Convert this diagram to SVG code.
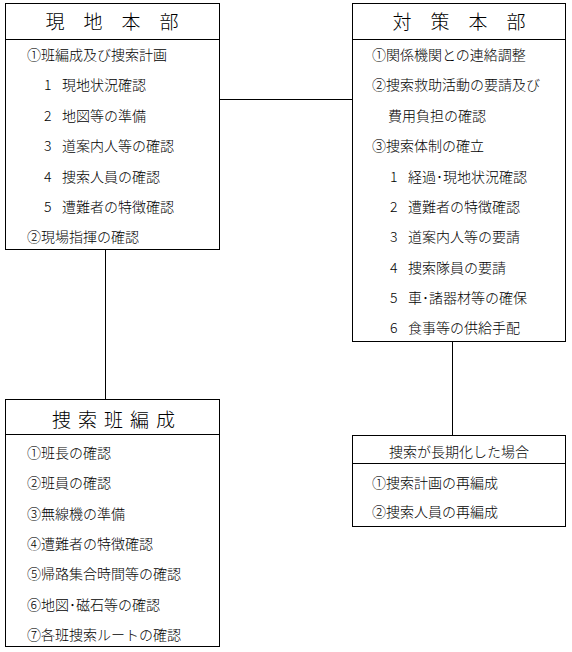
<svg xmlns="http://www.w3.org/2000/svg" width="572" height="652" viewBox="0 0 572 652">
<style>
rect,line{fill:none;stroke:#000;stroke-width:1}
text{font-family:"Noto Sans CJK JP","Noto Sans CJK SC",sans-serif;font-size:14px;font-weight:300;fill:#000}
.h{font-size:19px;text-anchor:middle}
.h2{font-size:14px;text-anchor:middle}
</style>
<rect x="0" y="0" width="572" height="652" style="fill:#fff;stroke:none"/>
<g id="connectors">
<line x1="219.5" y1="99.5" x2="352.5" y2="99.5"/>
<line x1="105.5" y1="249.5" x2="105.5" y2="399.5"/>
<line x1="452.5" y1="341.5" x2="452.5" y2="435.5"/>
</g>
<g id="genchi">
<rect x="5.5" y="3.5" width="214" height="246"/>
<line x1="5.5" y1="39.5" x2="219.5" y2="39.5"/>
<text class="h" x="112" y="28.5">現　地　本　部</text>
<text x="27" y="60">①班編成及び捜索計画</text>
<text x="44" y="90">1</text><text x="62" y="90">現地状況確認</text>
<text x="44" y="120.5">2</text><text x="62" y="120.5">地図等の準備</text>
<text x="44" y="151">3</text><text x="62" y="151">道案内人等の確認</text>
<text x="44" y="181.5">4</text><text x="62" y="181.5">捜索人員の確認</text>
<text x="44" y="212">5</text><text x="62" y="212">遭難者の特徴確認</text>
<text x="27" y="242">②現場指揮の確認</text>
</g>
<g id="taisaku">
<rect x="352.5" y="3.5" width="213" height="338"/>
<line x1="352.5" y1="39.5" x2="565.5" y2="39.5"/>
<text class="h" x="459" y="28.5">対　策　本　部</text>
<text x="372" y="60">①関係機関との連絡調整</text>
<text x="372" y="90">②捜索救助活動の要請及び</text>
<text x="388" y="120.5">費用負担の確認</text>
<text x="372" y="151">③捜索体制の確立</text>
<text x="390" y="181.5">1</text><text x="408" y="181.5">経過･現地状況確認</text>
<text x="390" y="212">2</text><text x="408" y="212">遭難者の特徴確認</text>
<text x="390" y="242">3</text><text x="408" y="242">道案内人等の要請</text>
<text x="390" y="272.5">4</text><text x="408" y="272.5">捜索隊員の要請</text>
<text x="390" y="303">5</text><text x="408" y="303">車･諸器材等の確保</text>
<text x="390" y="333">6</text><text x="408" y="333">食事等の供給手配</text>
</g>
<g id="sousakuhan">
<rect x="5.5" y="399.5" width="214" height="247"/>
<line x1="5.5" y1="434.5" x2="219.5" y2="434.5"/>
<text class="h" x="117" y="427" letter-spacing="7">捜索班編成</text>
<text x="27" y="458">①班長の確認</text>
<text x="27" y="488">②班員の確認</text>
<text x="27" y="518.5">③無線機の準備</text>
<text x="27" y="549">④遭難者の特徴確認</text>
<text x="27" y="579">⑤帰路集合時間等の確認</text>
<text x="27" y="609.5">⑥地図･磁石等の確認</text>
<text x="27" y="639.5">⑦各班捜索ルートの確認</text>
</g>
<g id="chouki">
<rect x="352.5" y="435.5" width="213" height="91"/>
<line x1="352.5" y1="463.5" x2="565.5" y2="463.5"/>
<text class="h2" x="459" y="457">捜索が長期化した場合</text>
<text x="372" y="488">①捜索計画の再編成</text>
<text x="372" y="517">②捜索人員の再編成</text>
</g>
</svg>
